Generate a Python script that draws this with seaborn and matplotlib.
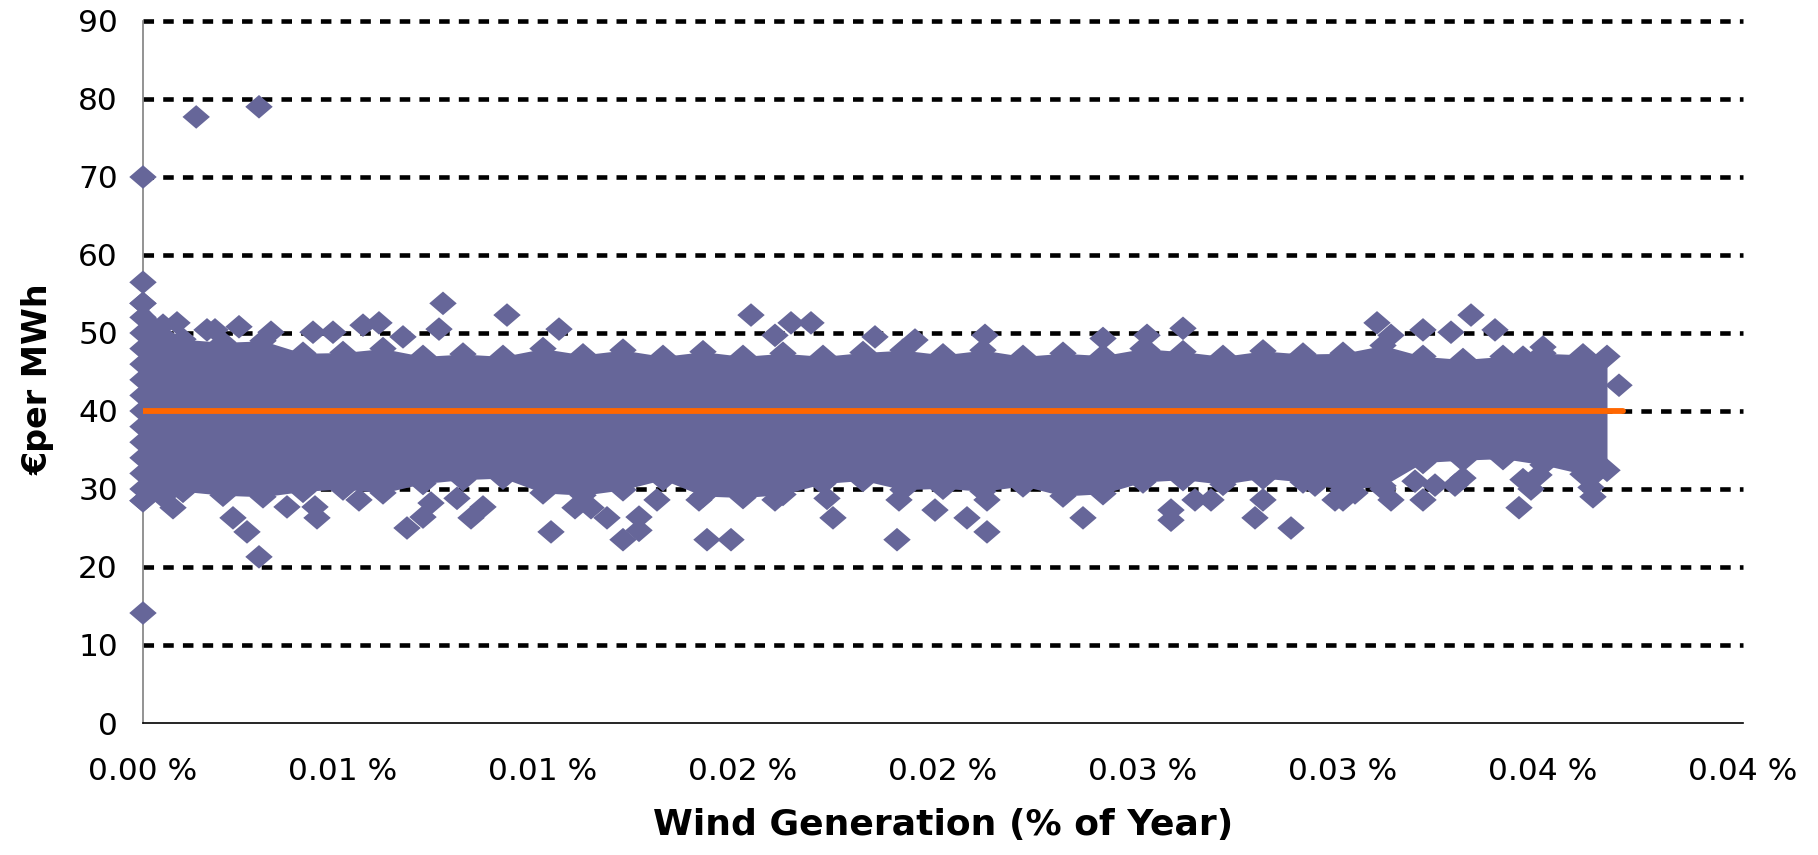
import numpy as np
import pandas as pd
import matplotlib
matplotlib.use("Agg")
import matplotlib.pyplot as plt
import seaborn as sns

# ---- data (x in % of year, y in EUR/MWh) ----

# dense band: centre of the outermost diamonds at each x
band_x = [0, 0.0005, 0.001, 0.002, 0.003, 0.004, 0.005, 0.006, 0.007, 0.008, 0.009,
          0.010, 0.011, 0.012, 0.013, 0.014, 0.015, 0.016, 0.017, 0.018, 0.019,
          0.020, 0.021, 0.022, 0.023, 0.024, 0.025, 0.026, 0.027, 0.028, 0.029,
          0.030, 0.031, 0.032, 0.033, 0.034, 0.035, 0.036, 0.0366]
band_top = [53.8, 51.0, 49.2, 48.8, 49.0, 47.4, 47.5, 48.0, 47.0, 47.3, 47.0,
            48.0, 47.2, 47.8, 47.0, 47.6, 47.0, 47.4, 47.0, 47.5, 47.8,
            47.2, 47.8, 47.0, 47.4, 47.1, 48.0, 47.6, 47.0, 47.7, 47.3,
            47.4, 48.4, 47.0, 46.6, 47.0, 47.4, 47.2, 47.0]
band_low = [28.5, 29.0, 29.7, 29.2, 29.0, 29.7, 30.0, 29.5, 30.7, 31.2, 31.4,
            29.5, 29.2, 29.9, 31.2, 29.1, 28.9, 29.3, 30.7, 31.1, 29.9,
            30.1, 29.7, 30.4, 29.1, 29.4, 30.9, 31.2, 30.6, 31.4, 30.9,
            29.9, 30.4, 33.4, 33.7, 33.9, 33.1, 31.9, 32.4]

# stacked column of points at x = 0
zero_col_y = [28.5, 30.0, 32.0, 34.0, 36.0, 38.0, 40.0, 42.0, 44.0, 46.0,
              48.0, 50.0, 52.0, 53.8, 56.5, 70.0, 14.1]

# single diamonds outside the dense band
extra_x = [0.00133, 0.0029, 0.00085, 0.0016, 0.0018, 0.0024, 0.0032, 0.00425,
           0.00475, 0.0055, 0.0059, 0.0065, 0.0074, 0.0075, 0.0091, 0.0104,
           0.0152, 0.0158, 0.0162, 0.0167, 0.0183, 0.0193, 0.02105, 0.024,
           0.0251, 0.0251, 0.026, 0.03085, 0.0312, 0.032, 0.0327, 0.0332,
           0.0338, 0.0345, 0.035, 0.0369,
           0.0029, 0.00075, 0.00225, 0.0026, 0.0036, 0.00435, 0.0043, 0.0054,
           0.0066, 0.007, 0.0072, 0.00785, 0.0082, 0.0085, 0.0102, 0.0108,
           0.0112, 0.0116, 0.012, 0.0124, 0.0124, 0.01285, 0.0139, 0.0141,
           0.0147, 0.0158, 0.0171, 0.01725, 0.01885, 0.0189, 0.0198, 0.0206,
           0.0211, 0.0211, 0.0235, 0.0257, 0.0257, 0.0263, 0.0267, 0.0278,
           0.028, 0.0287, 0.0298, 0.03, 0.0312, 0.032, 0.0344, 0.0349,
           0.03625, 0.033, 0.0318, 0.0323, 0.0328, 0.0293, 0.0303, 0.031,
           0.0362, 0.0362, 0.0347, 0.0345]
extra_y = [77.7, 79.0, 51.3, 50.4, 50.4, 50.8, 50.1, 50.1,
           50.1, 51.0, 51.3, 49.5, 50.5, 53.8, 52.3, 50.5,
           52.3, 49.7, 51.3, 51.3, 49.5, 49.1, 49.7, 49.3,
           49.7, 47.8, 50.6, 51.3, 49.7, 50.4, 50.1, 52.3,
           50.4, 46.9, 48.2, 43.3,
           21.3, 27.6, 26.3, 24.5, 27.7, 26.3, 27.7, 28.6,
           25.0, 26.4, 28.2, 28.8, 26.3, 27.7, 24.5, 27.6,
           27.6, 26.3, 23.5, 24.7, 26.4, 28.6, 28.6, 23.5,
           23.5, 28.6, 28.8, 26.3, 23.5, 28.6, 27.3, 26.3,
           24.5, 28.6, 26.3, 27.3, 26.0, 28.6, 28.6, 26.3,
           28.6, 25.0, 28.6, 28.6, 28.6, 28.6, 27.6, 31.8,
           29.0, 31.4, 31.0, 30.5, 30.5, 30.5, 29.5, 30.0,
           31.5, 30.2, 30.0, 31.2]

# average price line
trend_x = [0, 0.037]
trend_y = [40, 40]

x_ticks = [0, 0.005, 0.01, 0.015, 0.02, 0.025, 0.03, 0.035, 0.04]
x_tick_labels = ["0.00 %", "0.01 %", "0.01 %", "0.02 %", "0.02 %",
                 "0.03 %", "0.03 %", "0.04 %", "0.04 %"]
y_ticks = [0, 10, 20, 30, 40, 50, 60, 70, 80, 90]

# ---- styling ----
sns.set_style("white")
plt.rcParams["font.family"] = ["DejaVu Sans"]
plt.rcParams["text.color"] = "black"
plt.rcParams["axes.labelcolor"] = "black"

point_color = "#666699"
line_color = "#FF6600"
diamond = [(-1, 0), (0, 0.86), (1, 0), (0, -0.86)]

points = pd.DataFrame({
    "x": band_x + band_x + [0] * len(zero_col_y) + extra_x,
    "y": band_top + band_low + zero_col_y + extra_y,
})
trend = pd.DataFrame({"x": trend_x, "y": trend_y})

fig = plt.figure(figsize=(18.18, 8.55), dpi=100)
ax = fig.add_axes([143 / 1818, 132 / 855, 1600 / 1818, 702 / 855])

# dotted grid lines
for v in y_ticks[1:]:
    ax.axhline(v, color="black", lw=3.3, linestyle=(0, (2.3, 2.0)),
               zorder=1, clip_on=False)

# dense core of the cloud
ax.fill_between(band_x, band_low, band_top, color=point_color, lw=0, zorder=3)

sns.scatterplot(data=points, x="x", y="y", ax=ax, marker=diamond, s=390,
                color=point_color, edgecolor="none", linewidth=0,
                zorder=3, clip_on=False, legend=False)

sns.lineplot(data=trend, x="x", y="y", ax=ax, color=line_color, lw=4.2,
             zorder=4, legend=False)

ax.set_xlim(0, 0.04)
ax.set_ylim(0, 90)
ax.set_xticks(x_ticks)
ax.set_xticklabels(x_tick_labels)
ax.set_yticks(y_ticks)

ax.tick_params(axis="both", labelsize=22.5, colors="#808080", labelcolor="black",
               direction="out", width=1.2)
ax.tick_params(axis="y", length=7, pad=11)
ax.tick_params(axis="x", length=6.5, pad=18)

for side in ["top", "right"]:
    ax.spines[side].set_visible(False)
ax.spines["left"].set_color("#808080")
ax.spines["left"].set_linewidth(1.2)
ax.spines["bottom"].set_color("black")
ax.spines["bottom"].set_linewidth(1.2)

ax.set_xlabel("Wind Generation (% of Year)", fontsize=26, fontweight="bold",
              labelpad=16)
ax.set_ylabel("€per MWh", fontsize=24, fontweight="bold")
ax.yaxis.set_label_coords(-0.055, 0.49)

fig.savefig("out.png", dpi=100, facecolor="white")
